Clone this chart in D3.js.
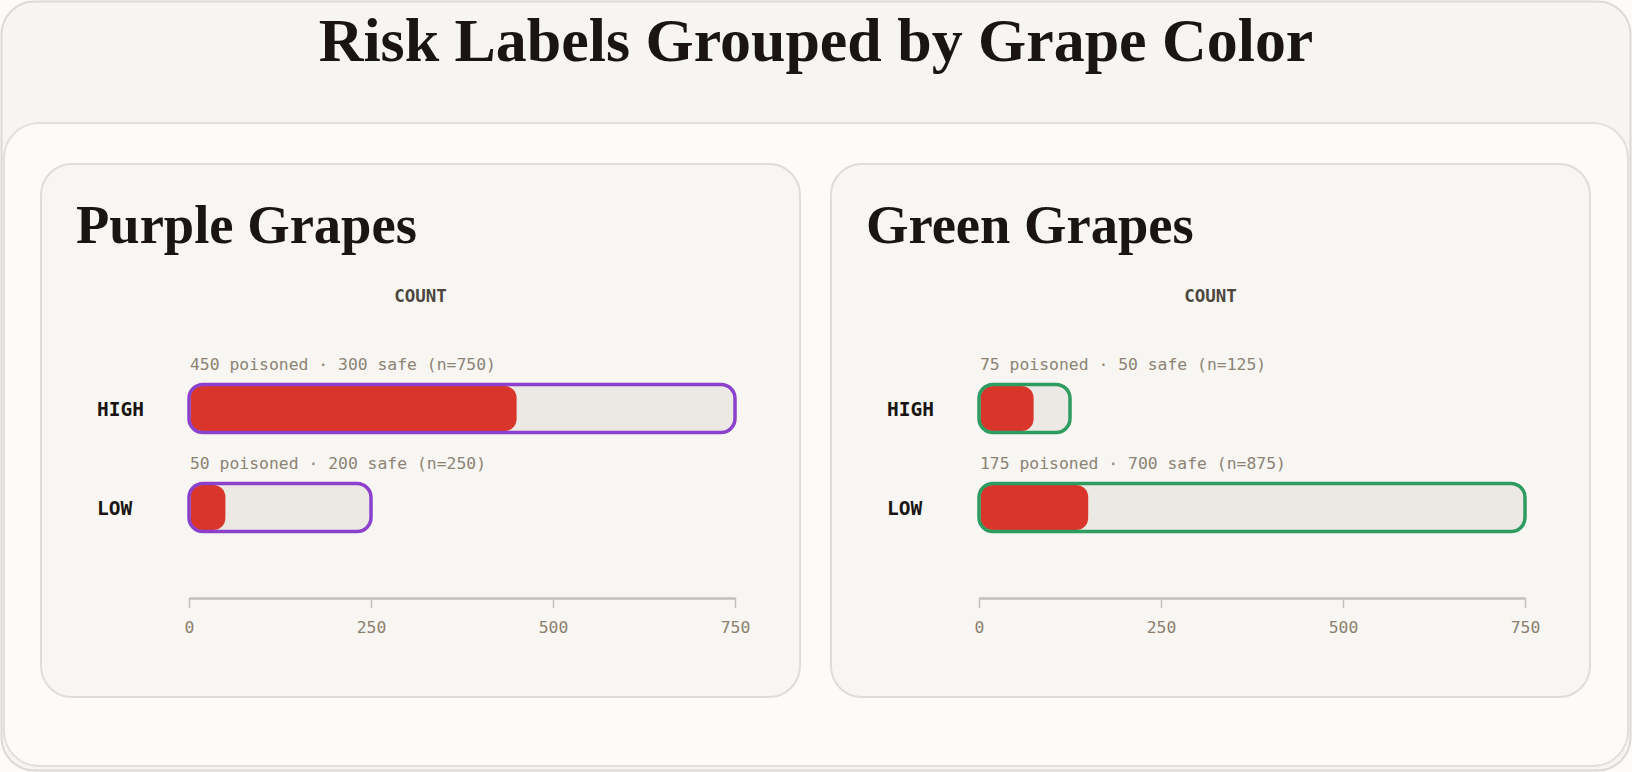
<!DOCTYPE html>
<html>
<head>
<meta charset="utf-8">
<script src="https://cdn.jsdelivr.net/npm/d3@7"></script>
<style>
  html, body { margin: 0; padding: 0; background: #fcfbf9; }
  svg { display: block; }
</style>
</head>
<body>
<div id="chart"></div>
<script>
// chart data
var title = "Risk Labels Grouped by Grape Color";
var groups = ["Purple Grapes", "Green Grapes"];
var risks = ["HIGH", "LOW"];
var poisoned = [[450, 50], [75, 175]];
var safe = [[300, 200], [50, 700]];
var tickValues = [0, 250, 500, 750];
var axisLabel = "COUNT";

// styles
var outlineColors = ["#8b41cc", "#2e9b5f"];
var ink = "#1a1512";
var red = "#d9352b";
var trackFill = "#ece9e4";
var serif = "'Liberation Serif', 'Times New Roman', serif";
var mono = "'DejaVu Sans Mono', 'Liberation Mono', monospace";

var svgWidth = 1632;
var svgHeight = 772;

var svg = d3.select("#chart")
  .append("svg")
  .attr("width", svgWidth)
  .attr("height", svgHeight);

// outer card
svg.append("rect")
  .attr("x", 1.5).attr("y", 1.5)
  .attr("width", svgWidth - 3).attr("height", svgHeight - 3)
  .attr("rx", 33)
  .attr("fill", "#f6f5f2")
  .attr("stroke", "#dcd9d4")
  .attr("stroke-width", 2);

// inner card
svg.append("rect")
  .attr("x", 4).attr("y", 123)
  .attr("width", 1624).attr("height", 643)
  .attr("rx", 35)
  .attr("fill", "#fcfbf9")
  .attr("stroke", "#e3e0dc")
  .attr("stroke-width", 2);

// fit a text element to a target width
function fitWidth(sel, target) {
  var w = sel.node().getComputedTextLength();
  var fs = parseFloat(sel.attr("font-size"));
  sel.attr("font-size", fs * target / w);
  return fs * target / w;
}

var titleText = svg.append("text")
  .attr("x", svgWidth / 2)
  .attr("y", 61)
  .attr("text-anchor", "middle")
  .attr("font-family", serif)
  .attr("font-weight", 700)
  .attr("font-size", 58)
  .attr("fill", ink)
  .text(title);
fitWidth(titleText, 995);

var panelW = 759, panelH = 533;
var panelX = [41, 831], panelY = 164;

var x = d3.scaleLinear()
  .domain([0, 750])
  .range([148, 694])
  .clamp(true);

var rowY = [220.5, 319.5];
var barH = 48;

var panelTitleSize = null;

groups.forEach(function(name, gi) {
  var g = svg.append("g")
    .attr("transform", `translate(${panelX[gi]}, ${panelY})`);

  g.append("rect")
    .attr("width", panelW).attr("height", panelH)
    .attr("rx", 31)
    .attr("fill", "#f7f6f3")
    .attr("stroke", "#e0ddd8")
    .attr("stroke-width", 2);

  var pt = g.append("text")
    .attr("x", 35)
    .attr("y", 79)
    .attr("font-family", serif)
    .attr("font-weight", 700)
    .attr("font-size", 48)
    .attr("fill", ink)
    .text(name);
  if (panelTitleSize === null) {
    panelTitleSize = fitWidth(pt, 341);
  } else {
    pt.attr("font-size", panelTitleSize);
  }

  g.append("text")
    .attr("x", panelW / 2)
    .attr("y", 138)
    .attr("text-anchor", "middle")
    .attr("font-family", mono)
    .attr("font-weight", 700)
    .attr("font-size", 17.5)
    .attr("fill", "#4d4640")
    .text(axisLabel);

  risks.forEach(function(risk, ri) {
    var p = poisoned[gi][ri];
    var s = safe[gi][ri];
    var n = p + s;
    var y0 = rowY[ri];
    var trackW = x(n) - x(0);
    var redW = trackW * p / n;

    g.append("text")
      .attr("x", 56)
      .attr("y", y0 + barH / 2)
      .attr("dy", "0.36em")
      .attr("font-family", mono)
      .attr("font-weight", 700)
      .attr("font-size", 19.5)
      .attr("fill", ink)
      .text(risk);

    g.append("text")
      .attr("x", x(0) + 1)
      .attr("y", y0 - 14.5)
      .attr("font-family", mono)
      .attr("font-size", 16.4)
      .attr("fill", "#8c8374")
      .text(`${p} poisoned \u00b7 ${s} safe (n=${n})`);

    g.append("rect")
      .attr("x", x(0)).attr("y", y0)
      .attr("width", trackW).attr("height", barH)
      .attr("rx", 14)
      .attr("fill", trackFill);

    g.append("rect")
      .attr("x", x(0) + 1.5).attr("y", y0 + 1.5)
      .attr("width", redW - 1.5).attr("height", barH - 3)
      .attr("rx", 12)
      .attr("fill", red);

    g.append("rect")
      .attr("x", x(0)).attr("y", y0)
      .attr("width", trackW).attr("height", barH)
      .attr("rx", 14)
      .attr("fill", "none")
      .attr("stroke", outlineColors[gi])
      .attr("stroke-width", 3.5);
  });

  var axis = d3.axisBottom(x)
    .tickValues(tickValues)
    .tickSize(10)
    .tickSizeOuter(0)
    .tickPadding(13);

  var ax = g.append("g")
    .attr("transform", `translate(0, 434)`)
    .call(axis);
  ax.select(".domain")
    .attr("stroke", "#c3c0bb")
    .attr("stroke-width", 2.5);
  ax.selectAll(".tick line")
    .attr("stroke", "#c3c0bb")
    .attr("stroke-width", 1.5);
  ax.selectAll(".tick text")
    .attr("font-family", mono)
    .attr("font-size", 16.4)
    .attr("fill", "#8c7f6e");
});
</script>
</body>
</html>
